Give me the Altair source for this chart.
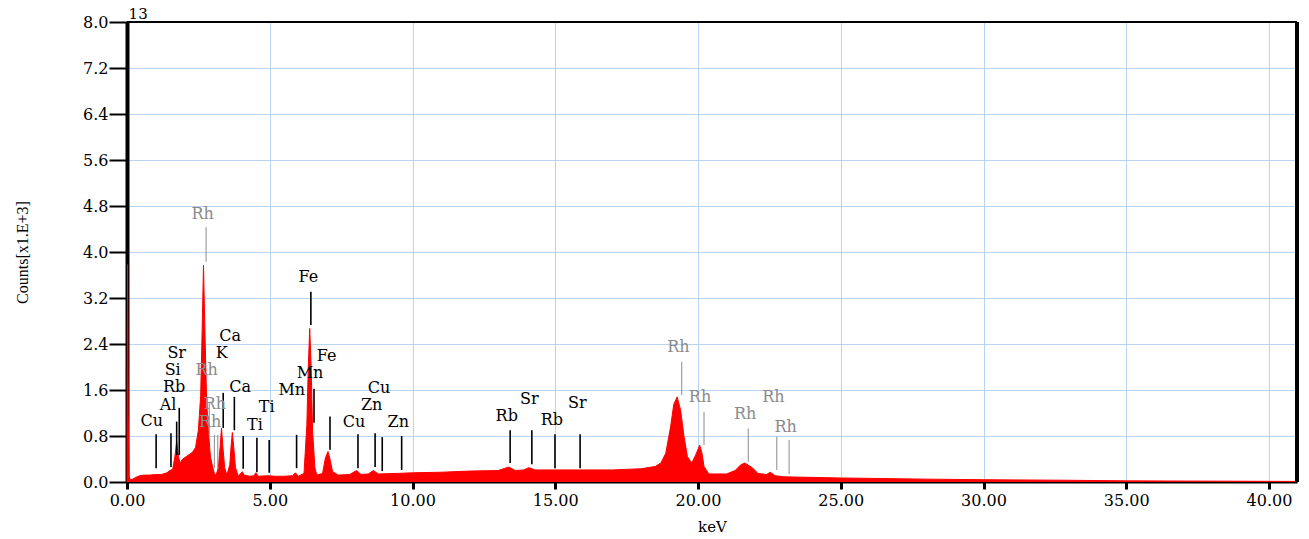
import altair as alt
import pandas as pd

# ---- spectrum (keV, counts x1e3) ----
energy = [0.0, 0.02, 0.04, 0.07, 0.12, 0.2, 0.3, 0.45, 0.6, 0.8, 1.0, 1.2, 1.4, 1.5, 1.6, 1.68, 1.74,
          1.8, 1.86, 1.95, 2.1, 2.3, 2.4, 2.5, 2.58, 2.63, 2.68, 2.73, 2.79, 2.85, 2.92, 3.0, 3.06,
          3.12, 3.2, 3.26, 3.31, 3.36, 3.42, 3.5, 3.6, 3.65, 3.69, 3.74, 3.8, 3.9, 4.0, 4.04, 4.1,
          4.3, 4.45, 4.51, 4.6, 4.93, 5.2, 5.5, 5.8, 5.9, 6.0, 6.2, 6.3, 6.35, 6.4, 6.45, 6.5,
          6.58, 6.65, 6.85, 6.95, 7.04, 7.1, 7.2, 7.4, 7.8, 8.04, 8.2, 8.45, 8.63, 8.8, 9.5, 10.0,
          11.0, 12.0, 13.0, 13.37, 13.6, 13.9, 14.07, 14.3, 15.0, 16.0, 17.0, 18.0, 18.5, 18.7,
          18.87, 19.04, 19.15, 19.27, 19.39, 19.51, 19.63, 19.78, 19.9, 20.06, 20.14, 20.21, 20.38,
          21.0, 21.3, 21.5, 21.64, 21.9, 22.1, 22.4, 22.53, 22.7, 23.0, 25.0, 28.0, 30.0, 33.0,
          35.0, 38.0, 41.0]
counts = [0.0, 3.78, 1.2, 0.1, 0.04, 0.05, 0.08, 0.11, 0.12, 0.12, 0.13, 0.13, 0.16, 0.2, 0.22, 0.45,
          0.70, 0.45, 0.33, 0.40, 0.45, 0.52, 0.6, 0.9, 1.5, 2.6, 3.77, 2.6, 1.4, 0.9, 0.45, 0.26,
          0.15, 0.12, 0.25, 0.6, 0.94, 0.6, 0.25, 0.12, 0.3, 0.65, 0.86, 0.6, 0.25, 0.1, 0.16,
          0.18, 0.12, 0.1, 0.11, 0.16, 0.1, 0.11, 0.1, 0.1, 0.11, 0.16, 0.1, 0.15, 1.0, 2.0, 2.67,
          2.0, 0.9, 0.25, 0.12, 0.15, 0.42, 0.53, 0.42, 0.18, 0.12, 0.13, 0.2, 0.13, 0.14, 0.2,
          0.14, 0.15, 0.16, 0.17, 0.19, 0.2, 0.26, 0.2, 0.21, 0.25, 0.21, 0.21, 0.21, 0.21, 0.23,
          0.27, 0.33, 0.5, 0.96, 1.35, 1.48, 1.25, 0.79, 0.44, 0.33, 0.45, 0.64, 0.5, 0.27, 0.14,
          0.14, 0.2, 0.3, 0.33, 0.25, 0.15, 0.13, 0.17, 0.11, 0.09, 0.07, 0.05, 0.04, 0.03, 0.02,
          0.015, 0.01]

# ---- peak labels ----
label_text = ["Rh", "Fe", "Ca", "K", "Sr", "Si", "Rh", "Fe", "Mn", "Rb", "Ca", "Mn", "Rh", "Al",
              "Ti", "Cu", "Rh", "Ti", "Cu", "Zn", "Cu", "Zn", "Rb", "Sr", "Rb", "Sr",
              "Rh", "Rh", "Rh", "Rh", "Rh"]
label_x = [2.65, 6.35, 3.61, 3.32, 1.74, 1.60, 2.79, 6.99, 6.41, 1.65, 3.96, 5.77, 3.08, 1.44,
           4.89, 0.87, 2.91, 4.48, 8.83, 8.57, 7.95, 9.50, 13.30, 14.09, 14.88, 15.77,
           19.31, 20.07, 21.65, 22.64, 23.07]
label_y = [4.66, 3.56, 2.54, 2.24, 2.24, 1.94, 1.94, 2.20, 1.90, 1.65, 1.65, 1.60, 1.35, 1.34,
           1.30, 1.06, 1.05, 1.00, 1.64, 1.34, 1.04, 1.04, 1.15, 1.44, 1.08, 1.37,
           2.34, 1.47, 1.18, 1.47, 0.96]
label_grey = [True, False, False, False, False, False, True, False, False, False, False, False,
              True, False, False, False, True, False, False, False, False, False, False, False,
              False, False, True, True, True, True, True]

# ---- marker lines ----
line_x = [2.77, 6.44, 1.02, 1.54, 1.74, 1.83, 2.88, 3.06, 3.18, 3.37, 3.76, 4.07, 4.55, 4.98,
          5.94, 6.55, 7.11, 8.09, 8.69, 8.94, 9.62, 13.42, 14.18, 14.99, 15.87,
          19.43, 20.21, 21.76, 22.76, 23.19]
line_top = [4.43, 3.31, 0.83, 0.85, 1.05, 1.29, 1.37, 0.82, 0.82, 1.55, 1.48, 0.80, 0.77, 0.73,
            0.82, 1.62, 1.14, 0.83, 0.85, 0.78, 0.80, 0.90, 0.90, 0.83, 0.83,
            2.09, 1.22, 0.93, 0.79, 0.73]
line_bot = [3.83, 2.73, 0.24, 0.26, 0.47, 0.47, 0.80, 0.24, 0.21, 0.94, 0.90, 0.23, 0.17, 0.16,
            0.24, 1.03, 0.56, 0.24, 0.26, 0.19, 0.21, 0.33, 0.31, 0.24, 0.24,
            1.51, 0.64, 0.35, 0.21, 0.14]
line_grey = [True, False, False, False, False, False, True, True, True, False, False, False,
             False, False, False, False, False, False, False, False, False, False, False, False,
             False, True, True, True, True, True]

x_ticks = [0, 5, 10, 15, 20, 25, 30, 35, 40]
y_ticks = [0.0, 0.8, 1.6, 2.4, 3.2, 4.0, 4.8, 5.6, 6.4, 7.2, 8.0]

FONT = "DejaVu Serif"
GREY = "#8a8a8a"

spec = pd.DataFrame({"keV": energy, "counts": counts})
labels = pd.DataFrame({"t": label_text, "x": label_x, "y": label_y,
                       "c": [GREY if g else "#000000" for g in label_grey]})
lines = pd.DataFrame({"x": line_x, "y": line_top, "y2": line_bot,
                      "c": [GREY if g else "#000000" for g in line_grey],
                      "w": [1.0 if g else 1.6 for g in line_grey]})

xscale = alt.Scale(domain=[0, 40.98], nice=False, zero=False)
yscale = alt.Scale(domain=[0, 8.0], nice=False)

xaxis = alt.Axis(values=x_ticks, format=".2f", title="keV", grid=True, labelFlush=False,
                 labelFont=FONT, labelFontSize=16, labelColor="#000", labelPadding=3,
                 tickSize=7, tickWidth=3, tickColor="#000",
                 domainColor="#000", domainWidth=2,
                 gridColor="#b7d4f2", gridWidth=1,
                 titleFont=FONT, titleFontSize=15, titleFontWeight="normal", titleColor="#000",
                 titleX=585, titleY=44, titleBaseline="middle")
yaxis = alt.Axis(values=y_ticks, format=".1f", title="Counts[x1.E+3]", grid=True, labelFlush=False,
                 labelFont=FONT, labelFontSize=16, labelColor="#000", labelPadding=1,
                 tickSize=18, tickWidth=2, tickColor="#000",
                 domainColor="#000", domainWidth=4,
                 gridColor="#b7d4f2", gridWidth=1,
                 titleFont="Liberation Serif", titleFontSize=16, titleFontWeight="normal",
                 titleColor="#000", titleX=-105, titleY=230, titleAngle=270,
                 titleAlign="center", titleBaseline="middle")

area = alt.Chart(spec).mark_area(color="#ff0000", opacity=1,
                                 line={"color": "#ff0000", "strokeWidth": 1},
                                 interpolate="linear").encode(
    x=alt.X("keV:Q", scale=xscale, axis=xaxis),
    y=alt.Y("counts:Q", scale=yscale, axis=yaxis),
)

rules = alt.Chart(lines).mark_rule().encode(
    x=alt.X("x:Q", scale=xscale),
    y=alt.Y("y:Q", scale=yscale),
    y2="y2:Q",
    color=alt.Color("c:N", scale=None),
    strokeWidth=alt.StrokeWidth("w:Q", scale=None),
)

texts = alt.Chart(labels).mark_text(font=FONT, fontSize=16, baseline="middle", align="center").encode(
    x=alt.X("x:Q", scale=xscale),
    y=alt.Y("y:Q", scale=yscale),
    text="t:N",
    color=alt.Color("c:N", scale=None),
)

top_border = alt.Chart().mark_rule(color="#000", strokeWidth=2).encode(
    y=alt.datum(8.0, scale=yscale), x=alt.datum(0, scale=xscale), x2=alt.datum(40.98))
right_border = alt.Chart().mark_rule(color="#000", strokeWidth=4).encode(
    x=alt.datum(40.98, scale=xscale), y=alt.datum(0, scale=yscale), y2=alt.datum(8.0))
corner = alt.Chart().mark_text(text="13", font=FONT, fontSize=15, color="#000",
                               align="center", baseline="middle").encode(
    x=alt.datum(0.39, scale=xscale), y=alt.datum(8.14, scale=yscale))

chart = alt.layer(area, rules, texts, top_border, right_border, corner).properties(
    width=1170, height=460,
    autosize=alt.AutoSizeParams(type="none"),
    padding={"left": 127, "top": 22, "right": 12, "bottom": 57},
).configure_view(stroke=None).configure(background="white")

chart.save("out.html", embed_options={"renderer": "svg", "actions": False})
